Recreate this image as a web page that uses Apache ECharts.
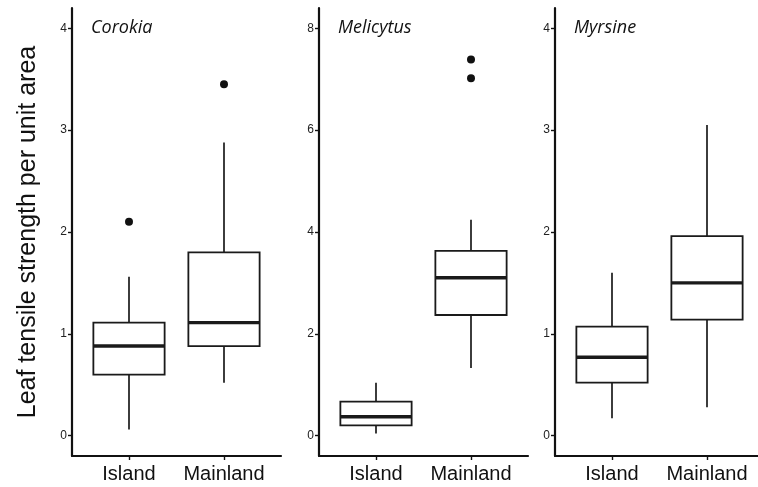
<!DOCTYPE html>
<html>
<head>
<meta charset="utf-8">
<script src="https://cdn.jsdelivr.net/npm/echarts@6/dist/echarts.min.js"></script>
<style>
  html, body { margin: 0; padding: 0; background: #fff; }
  #main { width: 758px; height: 487px; }
</style>
</head>
<body>
<div id="main"></div>
<script>
// groups on the x axis (x = index + 1)
var groups = ['Island', 'Mainland'];
var species = ['Corokia', 'Melicytus', 'Myrsine'];

// box stats per group: [min, Q1, median, Q3, max]
var corokiaBox = [[0.06, 0.60, 0.88, 1.11, 1.56], [0.52, 0.88, 1.11, 1.80, 2.88]];
var melicytusBox = [[0.04, 0.20, 0.37, 0.67, 1.04], [1.33, 2.37, 3.10, 3.63, 4.24]];
var myrsineBox = [[0.17, 0.52, 0.77, 1.07, 1.60], [0.28, 1.14, 1.50, 1.96, 3.05]];

// outliers: [group index, value]
var corokiaOut = [[0, 2.10], [1, 3.45]];
var melicytusOut = [[1, 7.02], [1, 7.39]];
var myrsineOut = [];

// y ticks and limits per panel
var ticks4 = [0, 1, 2, 3, 4];
var ticks8 = [0, 2, 4, 6, 8];
var lim4 = [-0.2, 4.2];
var lim8 = [-0.4, 8.4];

var boxes = [corokiaBox, melicytusBox, myrsineBox];
var outs = [corokiaOut, melicytusOut, myrsineOut];
var ticks = [ticks4, ticks8, ticks4];
var lims = [lim4, lim8, lim4];
var lefts = [72, 319, 555];

function renderBox(params, api) {
  var x = api.value(0);
  var pMin = api.coord([x, api.value(1)]);
  var pQ1 = api.coord([x, api.value(2)]);
  var pMed = api.coord([x, api.value(3)]);
  var pQ3 = api.coord([x, api.value(4)]);
  var pMax = api.coord([x, api.value(5)]);
  var half = api.size([0.75, 0])[0] / 2;
  var ink = '#1a1a1a';
  return {
    type: 'group',
    children: [
      { type: 'line', shape: { x1: pMax[0], y1: pMax[1], x2: pQ3[0], y2: pQ3[1] }, style: { stroke: ink, lineWidth: 1.7 } },
      { type: 'line', shape: { x1: pQ1[0], y1: pQ1[1], x2: pMin[0], y2: pMin[1] }, style: { stroke: ink, lineWidth: 1.7 } },
      { type: 'rect', shape: { x: pQ3[0] - half, y: pQ3[1], width: half * 2, height: pQ1[1] - pQ3[1] }, style: { fill: '#fff', stroke: ink, lineWidth: 1.8 } },
      { type: 'line', shape: { x1: pMed[0] - half, y1: pMed[1], x2: pMed[0] + half, y2: pMed[1] }, style: { stroke: ink, lineWidth: 3.4 } }
    ]
  };
}

var grid = [], xAxis = [], yAxis = [], series = [], title = [];
for (var i = 0; i < 3; i++) {
  grid.push({ left: lefts[i], top: 8, width: 209, height: 448, containLabel: false, outerBoundsMode: 'none' });
  title.push({
    text: species[i], left: lefts[i] + 14, top: 14,
    textStyle: { fontFamily: 'Open Sans', fontStyle: 'italic', fontWeight: 'normal', fontSize: 18, color: '#111' }
  });
  xAxis.push({
    gridIndex: i, type: 'value', min: 0.4, max: 2.6,
    splitLine: { show: false },
    axisLine: { onZero: false, lineStyle: { color: '#111', width: 2.2 } },
    axisTick: { customValues: [1, 2], length: 4, lineStyle: { color: '#111', width: 1.4 } },
    axisLabel: {
      customValues: [1, 2], margin: 8, fontSize: 20, color: '#111', fontFamily: 'Liberation Sans',
      formatter: function (v) { return groups[Math.round(v) - 1]; }
    }
  });
  var ya = {
    gridIndex: i, type: 'value', min: lims[i][0], max: lims[i][1],
    splitLine: { show: false },
    axisLine: { show: true, onZero: false, lineStyle: { color: '#111', width: 2.2 } },
    axisTick: { show: true, customValues: ticks[i], length: 4, lineStyle: { color: '#111', width: 1.4 } },
    axisLabel: { customValues: ticks[i], margin: 5, fontSize: 12, color: '#222', fontFamily: 'Liberation Sans' }
  };
  if (i === 0) {
    ya.name = 'Leaf tensile strength per unit area';
    ya.nameLocation = 'middle';
    ya.nameGap = 31;
    ya.nameTextStyle = { fontSize: 25, color: '#111', fontFamily: 'Liberation Sans' };
  }
  yAxis.push(ya);

  series.push({
    type: 'custom', xAxisIndex: i, yAxisIndex: i,
    renderItem: renderBox,
    data: boxes[i].map(function (b, g) { return [g + 1].concat(b); })
  });
  series.push({
    type: 'scatter', xAxisIndex: i, yAxisIndex: i,
    symbolSize: 8, itemStyle: { color: '#111', opacity: 1 },
    data: outs[i].map(function (o) { return [o[0] + 1, o[1]]; })
  });
}

var chart = echarts.init(document.getElementById('main'));
chart.setOption({
  animation: false,
  backgroundColor: '#fff',
  title: title,
  grid: grid,
  xAxis: xAxis,
  yAxis: yAxis,
  series: series
});
</script>
</body>
</html>
